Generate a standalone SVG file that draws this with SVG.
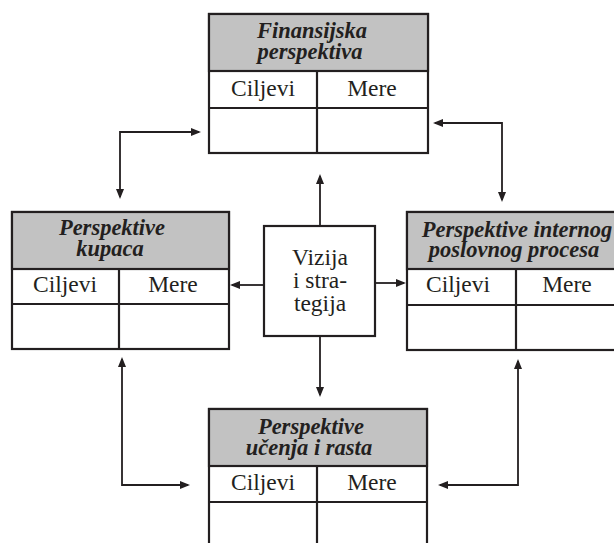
<svg xmlns="http://www.w3.org/2000/svg" width="614" height="543" viewBox="0 0 614 543">
<style>
.hdr{fill:#c2c2c2;stroke:#231f20;stroke-width:2.2}
.cell{fill:#ffffff;stroke:#231f20;stroke-width:2.2}
.ln{stroke:#231f20;stroke-width:2.2;fill:none}
.ht{font-family:'Liberation Serif','DejaVu Serif',serif;font-size:22.5px;font-weight:bold;font-style:italic;fill:#231f20;text-anchor:middle}
.ct{font-family:'Liberation Serif','DejaVu Serif',serif;font-size:23.5px;fill:#231f20;text-anchor:middle}
.conn path{stroke:#231f20;stroke-width:1.8;fill:none;marker-end:url(#ah)}
.dbl{marker-start:url(#ah)}
</style>
<defs>
<marker id="ah" viewBox="0 0 10 8" refX="8" refY="4" markerWidth="10" markerHeight="8" markerUnits="userSpaceOnUse" orient="auto-start-reverse">
<path d="M0,0 L10,4 L0,8 z" fill="#231f20"/>
</marker>
</defs>
<rect width="614" height="543" fill="#ffffff"/>

<g id="fin">
<rect class="cell" x="209" y="14" width="219" height="139"/>
<rect class="hdr" x="209" y="14" width="219" height="57"/>
<line class="ln" x1="209" y1="108" x2="428" y2="108"/>
<line class="ln" x1="317" y1="71" x2="317" y2="153"/>
<text class="ht" x="312" y="38">Finansijska</text>
<text class="ht" x="310" y="59">perspektiva</text>
<text class="ct" x="263" y="96">Ciljevi</text>
<text class="ct" x="372" y="96">Mere</text>
</g>

<g id="kup">
<rect class="cell" x="12" y="212" width="217" height="137"/>
<rect class="hdr" x="12" y="212" width="217" height="57"/>
<line class="ln" x1="12" y1="304" x2="229" y2="304"/>
<line class="ln" x1="119" y1="269" x2="119" y2="349"/>
<text class="ht" x="112" y="235">Perspektive</text>
<text class="ht" x="110" y="256">kupaca</text>
<text class="ct" x="65" y="292">Ciljevi</text>
<text class="ct" x="173" y="292">Mere</text>
</g>

<g id="int">
<rect class="cell" x="407" y="212" width="213" height="138"/>
<rect class="hdr" x="407" y="212" width="213" height="57"/>
<line class="ln" x1="407" y1="305" x2="620" y2="305"/>
<line class="ln" x1="516" y1="269" x2="516" y2="350"/>
<text class="ht" x="517" y="237">Perspektive internog</text>
<text class="ht" x="514" y="257">poslovnog procesa</text>
<text class="ct" x="458" y="292">Ciljevi</text>
<text class="ct" x="567" y="292">Mere</text>
</g>

<g id="uce">
<rect class="cell" x="209" y="409" width="218" height="145"/>
<rect class="hdr" x="209" y="409" width="218" height="57"/>
<line class="ln" x1="209" y1="502" x2="427" y2="502"/>
<line class="ln" x1="317" y1="466" x2="317" y2="554"/>
<text class="ht" x="311" y="434">Perspektive</text>
<text class="ht" x="309" y="455">učenja i rasta</text>
<text class="ct" x="263" y="490">Ciljevi</text>
<text class="ct" x="372" y="490">Mere</text>
</g>

<g id="viz">
<rect class="cell" x="264" y="226" width="111" height="110"/>
<text class="ct" x="320" y="265">Vizija</text>
<text class="ct" x="320" y="288">i stra-</text>
<text class="ct" x="320" y="311">tegija</text>
</g>

<g id="connectors" class="conn">
<path d="M320 226 V176"/>
<path d="M320 336 V395"/>
<path d="M264 285 H232"/>
<path d="M375 283 H404"/>
<path class="dbl" d="M199 132 H120 V197"/>
<path class="dbl" d="M435 123 H502 V200"/>
<path class="dbl" d="M122 359 V485 H188"/>
<path class="dbl" d="M518 361 V485 H440"/>
</g>
</svg>
